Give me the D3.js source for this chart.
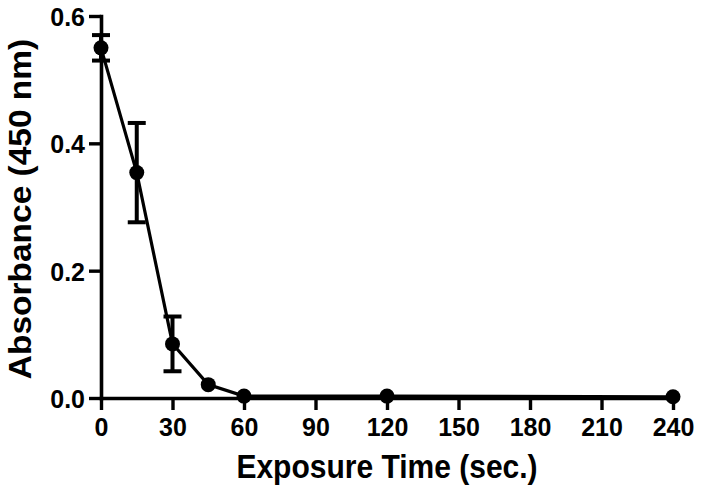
<!DOCTYPE html>
<html>
<head>
<meta charset="utf-8">
<script src="https://cdn.jsdelivr.net/npm/d3@7"></script>
<style>
  html, body { margin: 0; padding: 0; background: #fff; }
  svg { display: block; }
  text { font-family: "Liberation Sans", Arial, sans-serif; font-weight: bold; fill: #000; }
</style>
</head>
<body>
<svg id="chart" width="702" height="495"></svg>
<script>
// Data
const times = [0, 15, 30, 45, 60, 120, 240];
const absorbance = [0.550, 0.354, 0.085, 0.021, 0.003, 0.003, 0.002];
const errors = [0.020, 0.078, 0.043, 0, 0, 0, 0];
const xTicks = [0, 30, 60, 90, 120, 150, 180, 210, 240];
const yTicks = [0.0, 0.2, 0.4, 0.6];
const xTitle = "Exposure Time (sec.)";
const yTitle = "Absorbance (450 nm)";

const svg = d3.select("#chart");
const x = d3.scaleLinear().domain([0, 240]).range([101, 673]);
const y = d3.scaleLinear().domain([0, 0.6]).range([398, 16]);

// X axis
const xAxis = svg.append("g")
  .attr("transform", `translate(0,${y(0)})`)
  .call(d3.axisBottom(x).tickValues(xTicks).tickFormat(d3.format("d")).tickSize(12).tickSizeOuter(0).tickPadding(4));
// Y axis
const yAxis = svg.append("g")
  .attr("transform", `translate(${x(0)},0)`)
  .call(d3.axisLeft(y).tickValues(yTicks).tickFormat(d3.format(".1f")).tickSize(12).tickSizeOuter(0).tickPadding(4));

[xAxis, yAxis].forEach(g => {
  g.select(".domain").attr("stroke", "#000").attr("stroke-width", 3.6).attr("stroke-linecap", "square");
  g.selectAll(".tick line").attr("stroke", "#000").attr("stroke-width", 3.4);
  g.selectAll(".tick text").style("font-size", "25px").attr("fill", "#000")
    .attr("transform", "scale(1,1.06)");
});
yAxis.selectAll(".tick text").attr("dy", "0.36em");
xAxis.selectAll(".tick text").attr("dy", "0.8em");

// Data line
const pts = times.map((t, i) => ({t, v: absorbance[i], e: errors[i]}));
svg.append("path")
  .datum(pts)
  .attr("fill", "none")
  .attr("stroke", "#000")
  .attr("stroke-width", 3.2)
  .attr("d", d3.line().x(d => x(d.t)).y(d => y(d.v)));

// Error bars
const eb = svg.append("g").selectAll("g").data(pts.filter(d => d.e > 0)).join("g");
eb.append("line")
  .attr("x1", d => x(d.t)).attr("x2", d => x(d.t))
  .attr("y1", d => y(d.v + d.e)).attr("y2", d => y(d.v - d.e))
  .attr("stroke", "#000").attr("stroke-width", 4);
eb.append("line")
  .attr("x1", d => x(d.t) - 9).attr("x2", d => x(d.t) + 9)
  .attr("y1", d => y(d.v + d.e)).attr("y2", d => y(d.v + d.e))
  .attr("stroke", "#000").attr("stroke-width", 4);
eb.append("line")
  .attr("x1", d => x(d.t) - 9).attr("x2", d => x(d.t) + 9)
  .attr("y1", d => y(d.v - d.e)).attr("y2", d => y(d.v - d.e))
  .attr("stroke", "#000").attr("stroke-width", 4);

// Points
svg.append("g").selectAll("circle").data(pts).join("circle")
  .attr("cx", d => x(d.t)).attr("cy", d => y(d.v))
  .attr("r", 7.5).attr("fill", "#000");

// Titles
svg.append("text")
  .attr("transform", "translate(387,478) scale(1,1.08)")
  .attr("text-anchor", "middle")
  .style("font-size", "30px")
  .text(xTitle);
svg.append("text")
  .attr("transform", "translate(31,209) rotate(-90) scale(1.08,1.04)")
  .attr("text-anchor", "middle")
  .style("font-size", "31px")
  .text(yTitle);
</script>
</body>
</html>
